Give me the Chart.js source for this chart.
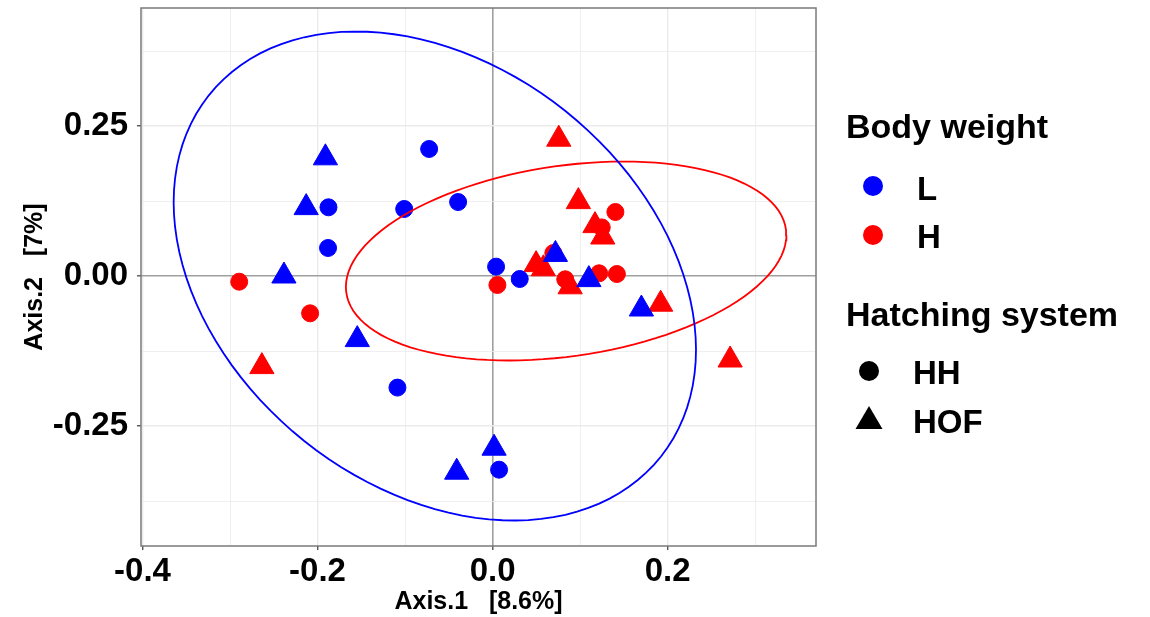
<!DOCTYPE html>
<html>
<head>
<meta charset="utf-8">
<script src="https://cdn.jsdelivr.net/npm/chart.js@4/dist/chart.umd.min.js"></script>
<style>
  html, body { margin: 0; padding: 0; background: #fff; }
  #wrap { position: relative; width: 1150px; height: 617px; font-family: 'Liberation Sans', Arial, sans-serif; }
  #chart { position: absolute; left: 0; top: 0; }
  .lg { position: absolute; font-weight: bold; line-height: 1; white-space: nowrap; color: #000; }
  #marks { position: absolute; left: 0; top: 0; }
</style>
</head>
<body>
<div id="wrap">
  <canvas id="chart" width="1150" height="617"></canvas>
  <svg id="marks" width="1150" height="617">
    <circle cx="873" cy="186" r="10" fill="#0000ff"/>
    <circle cx="873" cy="235" r="10" fill="#ff0000"/>
    <circle cx="869" cy="371" r="10" fill="#000"/>
    <polygon points="869,406 882.5,429 855.5,429" fill="#000"/>
  </svg>
  <div class="lg" style="left:846px;top:109px;font-size:34px">Body weight</div>
  <div class="lg" style="left:917px;top:172px;font-size:33px">L</div>
  <div class="lg" style="left:917px;top:220px;font-size:33px">H</div>
  <div class="lg" style="left:846px;top:297px;font-size:34px">Hatching system</div>
  <div class="lg" style="left:913px;top:356px;font-size:33px">HH</div>
  <div class="lg" style="left:913px;top:405px;font-size:33px">HOF</div>
</div>
<script>
// points: body weight L/H x hatching system HH/HOF
const lowHHx = [-0.0725, -0.1875, -0.101, -0.0394, -0.188, 0.004, 0.031, -0.1087, 0.0074];
const lowHHy = [0.2117, 0.1145, 0.1117, 0.1233, 0.0467, 0.0156, -0.005, -0.186, -0.3228];
const lowHOFx = [-0.191, -0.213, -0.2384, -0.1546, -0.041, 0.0017, 0.0718, 0.11, 0.17];
const lowHOFy = [0.197, 0.114, 0.0, -0.106, -0.327, -0.287, 0.036, -0.006, -0.055];
const highHHx = [-0.2895, -0.2085, 0.0055, 0.1403, 0.1247, 0.0694, 0.083, 0.1217, 0.142];
const highHHy = [-0.0095, -0.0622, -0.015, 0.1067, 0.081, 0.0383, -0.0055, 0.0045, 0.0033];
const highHOFx = [0.0756, 0.098, 0.117, 0.1259, 0.0497, 0.0886, 0.192, 0.2714, -0.2636, 0.058];
const highHOFy = [0.228, 0.124, 0.084, 0.065, 0.019, -0.018, -0.047, -0.14, -0.151, 0.012];

// confidence ellipses: centre x, centre y, half width (x), half height (y), covariance term
const lowEllipse = [-0.066, 0.0, 0.2984, 0.4075, -0.0367];
const highEllipse = [0.084, 0.025, 0.2516, 0.1658, 0.01089];

const xTicks = [-0.4, -0.3, -0.2, -0.1, 0, 0.1, 0.2, 0.3];
const xLabels = ["-0.4", "", "-0.2", "", "0.0", "", "0.2", ""];
const yTicks = [-0.375, -0.25, -0.125, 0, 0.125, 0.25, 0.375];
const yLabels = ["", "-0.25", "", "0.00", "", "0.25", ""];

const toPoints = (xs, ys) => xs.map((x, i) => ({ x, y: ys[i] }));

function ellipsePath(e) {
  const [cx, cy, sx, sy, cov] = e;
  const a21 = cov / sx;
  const a22 = Math.sqrt(sy * sy - a21 * a21);
  const pts = [];
  for (let i = 0; i <= 120; i++) {
    const t = (i / 120) * Math.PI * 2;
    pts.push({ x: cx + sx * Math.cos(t), y: cy + a21 * Math.cos(t) + a22 * Math.sin(t) });
  }
  return pts;
}

const BLUE = "#0000ff";
const RED = "#ff0000";

const panelFrame = {
  id: "panelFrame",
  afterDraw(chart) {
    const { ctx, chartArea: a } = chart;
    ctx.save();
    ctx.strokeStyle = "#7a7a7a";
    ctx.lineWidth = 1.5;
    ctx.strokeRect(a.left, a.top, a.right - a.left, a.bottom - a.top);
    ctx.restore();
  },
};

Chart.defaults.font.family = "'Liberation Sans', Arial, sans-serif";
Chart.defaults.color = "#000";

const isZero = v => Math.abs(v) < 1e-9;

new Chart(document.getElementById("chart"), {
  type: "scatter",
  data: {
    datasets: [
      { data: ellipsePath(lowEllipse), showLine: true, borderColor: BLUE, borderWidth: 1.8, pointRadius: 0, fill: false },
      { data: ellipsePath(highEllipse), showLine: true, borderColor: RED, borderWidth: 1.8, pointRadius: 0, fill: false },
      { data: toPoints(lowHOFx, lowHOFy), pointStyle: "triangle", pointRadius: 14, backgroundColor: BLUE, borderColor: BLUE, borderWidth: 1 },
      { data: toPoints(lowHHx, lowHHy), pointStyle: "circle", pointRadius: 8.5, backgroundColor: BLUE, borderColor: BLUE, borderWidth: 1 },
      { data: toPoints(highHOFx, highHOFy), pointStyle: "triangle", pointRadius: 14, backgroundColor: RED, borderColor: RED, borderWidth: 1 },
      { data: toPoints(highHHx, highHHy), pointStyle: "circle", pointRadius: 8.5, backgroundColor: RED, borderColor: RED, borderWidth: 1 },
    ],
  },
  options: {
    responsive: false,
    animation: false,
    events: [],
    layout: { autoPadding: false, padding: { left: 0, top: 8, right: 334, bottom: 0 } },
    plugins: { legend: { display: false }, tooltip: { enabled: false } },
    scales: {
      x: {
        type: "linear",
        min: -0.4017,
        max: 0.3695,
        afterBuildTicks: s => { s.ticks = xTicks.map(v => ({ value: v })); },
        afterFit: s => { s.height = 71; s.paddingLeft = 0; s.paddingRight = 0; },
        border: { display: false },
        grid: {
          tickLength: 4,
          color: c => (isZero(c.tick.value) ? "#a0a0a0" : "#ebebeb"),
          lineWidth: c => (isZero(c.tick.value) ? 1.6 : xLabels[c.index] ? 1.4 : 0.8),
          tickColor: c => (xLabels[c.index] ? "#555" : "rgba(0,0,0,0)"),
          tickWidth: 1.4,
        },
        ticks: {
          autoSkip: false,
          maxRotation: 0,
          padding: 2,
          font: { size: 33, weight: "bold", lineHeight: 1.2 },
          callback: (v, i) => xLabels[i],
        },
        title: {
          display: true,
          text: "Axis.1   [8.6%]",
          font: { size: 25, weight: "bold", lineHeight: 1.2 },
          padding: { top: 0, bottom: 0 },
        },
      },
      y: {
        type: "linear",
        min: -0.45,
        max: 0.4467,
        afterBuildTicks: s => { s.ticks = yTicks.map(v => ({ value: v })); },
        afterFit: s => { s.width = 141; s.paddingTop = 0; s.paddingBottom = 0; },
        border: { display: false },
        grid: {
          tickLength: 4,
          color: c => (isZero(c.tick.value) ? "#a0a0a0" : "#ebebeb"),
          lineWidth: c => (isZero(c.tick.value) ? 1.6 : yLabels[c.index] ? 1.4 : 0.8),
          tickColor: c => (yLabels[c.index] ? "#555" : "rgba(0,0,0,0)"),
          tickWidth: 1.4,
        },
        ticks: {
          autoSkip: false,
          padding: 9,
          font: { size: 33, weight: "bold", lineHeight: 1.2 },
          callback: (v, i) => yLabels[i],
        },
        title: {
          display: true,
          text: "Axis.2   [7%]",
          font: { size: 25, weight: "bold", lineHeight: 1.2 },
          padding: { top: 20, bottom: 0 },
        },
      },
    },
  },
  plugins: [panelFrame],
});
</script>
</body>
</html>
